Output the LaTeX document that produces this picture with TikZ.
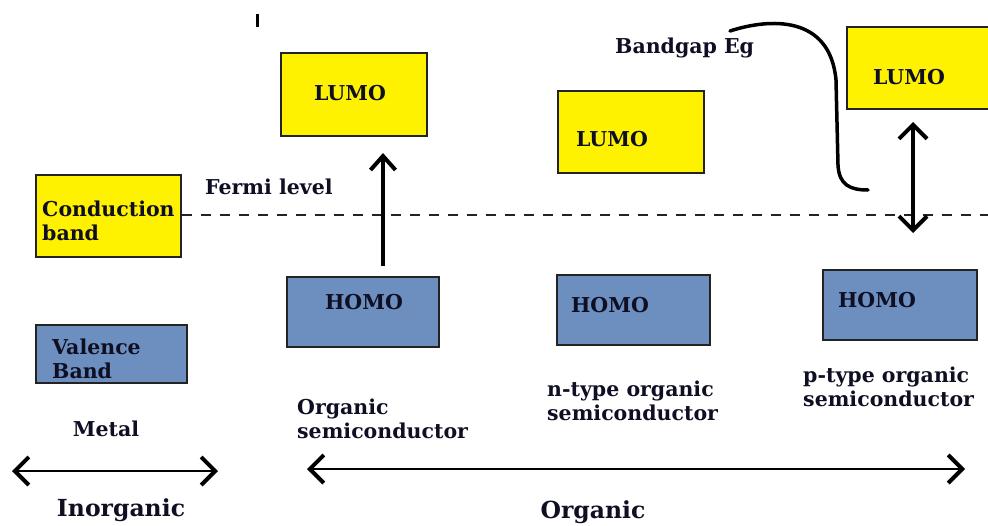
\documentclass[tikz,border=0pt]{standalone}
\usepackage{fontspec}
\setmainfont{DejaVu Serif}
\usetikzlibrary{arrows.meta}
\definecolor{bandyellow}{RGB}{255,242,0}
\definecolor{bandblue}{RGB}{108,143,191}
\definecolor{edgegray}{RGB}{35,35,35}
\definecolor{txt}{RGB}{15,15,35}
\begin{document}
\begin{tikzpicture}[x=1pt,y=-1pt,
  box/.style={draw=edgegray, line width=1.5pt, inner sep=0pt},
  ybox/.style={box, fill=bandyellow},
  bbox/.style={box, fill=bandblue},
  lbl/.style={inner sep=0pt, text=txt, font=\fontsize{20.5}{24.5}\selectfont\bfseries},
  big/.style={inner sep=0pt, text=txt, font=\fontsize{23.5}{28}\selectfont\bfseries},
  chev/.style={line width=#1, -{Straight Barb[length=14pt,width=25pt,line width=4pt]}},
  dchev/.style={line width=#1, {Straight Barb[length=14pt,width=28pt,line width=4pt]}-{Straight Barb[length=14pt,width=28pt,line width=4pt]}}
]
\useasboundingbox (0,0) rectangle (988,525);
\clip (0,0) rectangle (988,525);

% boxes
\node[ybox, minimum width=145pt, minimum height=82pt] (cb) at (108.5,216) {};
\node[bbox, minimum width=151pt, minimum height=58pt] (vb) at (111.5,354) {};
\node[ybox, minimum width=146pt, minimum height=83pt] (l1) at (354,94.5) {};
\node[bbox, minimum width=152pt, minimum height=70pt] (h1) at (363,312) {};
\node[ybox, minimum width=146pt, minimum height=82pt] (l2) at (631,132) {};
\node[bbox, minimum width=153pt, minimum height=70pt] (h2) at (633.5,310) {};
\node[ybox, minimum width=146pt, minimum height=82pt] (l3) at (920,68) {};
\node[bbox, minimum width=154pt, minimum height=70pt] (h3) at (900,305) {};

% box texts
\node[lbl, anchor=west, align=left] (cbt) at (42,221) {Conduction\\band};
\node[lbl, anchor=west, align=left] (vbt) at (52,359) {Valence\\Band};
\node[lbl] (l1t) at (350,93) {LUMO};
\node[lbl] (h1t) at (364,302) {HOMO};
\node[lbl] (l2t) at (612,139) {LUMO};
\node[lbl] (h2t) at (610,305) {HOMO};
\node[lbl] (l3t) at (909,77) {LUMO};
\node[lbl] (h3t) at (877,300) {HOMO};

% other labels
\node[lbl, anchor=west] (fermi) at (205,187) {Fermi level};
\node[lbl, anchor=west] (bg) at (615,48) {Bandgap Eg};
\node[lbl] (metal) at (106,429) {Metal};
\node[lbl, anchor=west, align=left] (os) at (297,419) {Organic\\semiconductor};
\node[lbl, anchor=west, align=left] (ns) at (547,401) {n-type organic\\semiconductor};
\node[lbl, anchor=west, align=left] (ps) at (803,387) {p-type organic\\semiconductor};
\node[big] (inorg) at (121,510) {Inorganic};
\node[big] (org) at (593,512) {Organic};

% Fermi level dashed line
\coordinate (fe) at (988,215);
\draw[edgegray, line width=1.3pt, dash pattern=on 10pt off 9pt] (cb.east |- 0,215) -- (fe);

% small tick
\coordinate (t1) at (257,14);
\coordinate (t2) at (257,27);
\draw[line width=3pt] (t1) -- (t2);

% excitation arrow
\coordinate (a1s) at (383,266);
\coordinate (a1e) at (383,153);
\draw[chev=4pt] (a1s) -- (a1e);

% bandgap double arrow
\coordinate (a2s) at (913,233);
\coordinate (a2e) at (913,122);
\draw[dchev=4pt] (a2s) -- (a2e);

% bandgap brace curve
\coordinate (c0) at (730,31);
\coordinate (c3) at (868,190);
\draw[line width=3.5pt, line cap=round] (c0) .. controls (770,18) and (830,15) .. (836,80)
  -- (838,165) .. controls (839,185) and (850,190) .. (c3);

% bottom arrows
\coordinate (i1) at (12,471);
\coordinate (i2) at (218,471);
\draw[dchev=2pt] (i1) -- (i2);
\coordinate (o1) at (307,469);
\coordinate (o2) at (965,469);
\draw[dchev=2pt] (o1) -- (o2);
\end{tikzpicture}
\end{document}
